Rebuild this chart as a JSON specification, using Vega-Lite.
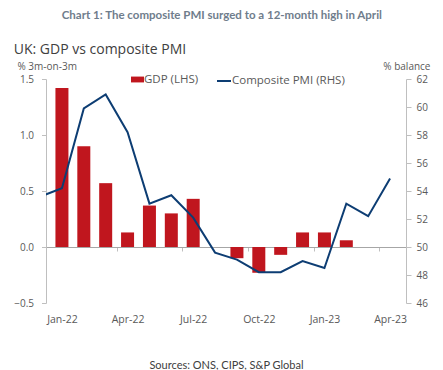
{
  "$schema": "https://vega.github.io/schema/vega-lite/v6.json",
  "background": "white",
  "padding": {"top": 9, "left": 13, "right": 5, "bottom": 5},
  "config": {"view": {"stroke": null}, "font": "Open Sans"},
  "title": {"text": "Chart 1: The composite PMI surged to a 12-month high in April", "font": "Lato", "fontSize": 11.5, "fontWeight": "bold", "color": "#6f7d8c", "anchor": "middle", "offset": 22},
  "data": {"values": [
    {"month": "Dec-21", "t": -1, "gdp": null, "pmi": 53.6},
    {"month": "Jan-22", "t": 0, "gdp": 1.42, "pmi": 54.2},
    {"month": "Feb-22", "t": 1, "gdp": 0.9, "pmi": 59.9},
    {"month": "Mar-22", "t": 2, "gdp": 0.57, "pmi": 60.9},
    {"month": "Apr-22", "t": 3, "gdp": 0.13, "pmi": 58.2},
    {"month": "May-22", "t": 4, "gdp": 0.37, "pmi": 53.1},
    {"month": "Jun-22", "t": 5, "gdp": 0.3, "pmi": 53.7},
    {"month": "Jul-22", "t": 6, "gdp": 0.43, "pmi": 52.1},
    {"month": "Aug-22", "t": 7, "gdp": 0.0, "pmi": 49.6},
    {"month": "Sep-22", "t": 8, "gdp": -0.1, "pmi": 49.1},
    {"month": "Oct-22", "t": 9, "gdp": -0.23, "pmi": 48.2},
    {"month": "Nov-22", "t": 10, "gdp": -0.07, "pmi": 48.2},
    {"month": "Dec-22", "t": 11, "gdp": 0.13, "pmi": 49.0},
    {"month": "Jan-23", "t": 12, "gdp": 0.13, "pmi": 48.5},
    {"month": "Feb-23", "t": 13, "gdp": 0.06, "pmi": 53.1},
    {"month": "Mar-23", "t": 14, "gdp": null, "pmi": 52.2},
    {"month": "Apr-23", "t": 15, "gdp": null, "pmi": 54.9}
  ]},
  "vconcat": [{
    "width": 360,
    "height": 224,
    "title": {"text": "UK: GDP vs composite PMI", "font": "Open Sans", "fontSize": 14, "fontWeight": "normal", "color": "#404040", "anchor": "start", "offset": 4},
    "resolve": {"scale": {"y": "independent"}, "axis": {"x": "independent"}},
    "layer": [
      {
        "transform": [{"filter": "isValid(datum.gdp)"}],
        "mark": {"type": "bar", "size": 13},
        "encoding": {
          "x": {"field": "t", "type": "quantitative", "scale": {"domain": [-0.5, 15.5], "nice": false, "zero": false},
            "axis": {"orient": "bottom", "offset": -56, "values": [2.5, 5.5, 8.5, 11.5, 14.5], "labels": false, "title": null, "grid": false, "domain": true, "domainColor": "#a6a6a6", "ticks": true, "tickColor": "#bfbfbf", "tickSize": 4}},
          "y": {"field": "gdp", "type": "quantitative", "scale": {"domain": [-0.5, 1.5], "nice": false},
            "axis": {"orient": "left", "values": [-0.5, 0, 0.5, 1, 1.5], "format": ".1f", "grid": false, "domainColor": "#bfbfbf", "tickColor": "#bfbfbf", "tickSize": 4.5, "labelPadding": 8, "labelFontSize": 10, "labelColor": "#595959", "labelFont": "Open Sans",
              "title": "% 3m-on-3m", "titleAngle": 0, "titleAlign": "left", "titleBaseline": "alphabetic", "titleX": -29, "titleY": -10, "titleFontSize": 10, "titleFontWeight": "normal", "titleColor": "#595959", "titleFont": "Open Sans"}},
          "fill": {"datum": "GDP (LHS)", "scale": {"range": ["#C0161E"]},
            "legend": {"orient": "none", "legendX": 85, "legendY": -6, "padding": 0, "title": null, "symbolType": "M-1,-0.45H1V0.45H-1Z", "symbolSize": 169, "symbolStrokeWidth": 0, "labelFontSize": 11.5, "labelColor": "#595959", "labelFont": "Open Sans", "labelOffset": 0}}
        }
      },
      {
        "mark": {"type": "line", "strokeWidth": 2, "clip": true},
        "encoding": {
          "x": {"field": "t", "type": "quantitative", "scale": {"domain": [-0.5, 15.5], "nice": false, "zero": false},
            "axis": {"orient": "bottom", "values": [0, 3, 6, 9, 12, 15], "labelExpr": "['Jan-22','Apr-22','Jul-22','Oct-22','Jan-23','Apr-23'][round(datum.value / 3)]", "domain": false, "ticks": false, "tickSize": 0, "grid": false, "labelPadding": 11, "labelFontSize": 10.5, "labelColor": "#595959", "labelFont": "Open Sans",
              "title": "Sources: ONS, CIPS, S&P Global", "titleFont": "Lato", "titleFontSize": 11, "titleFontWeight": "normal", "titleColor": "#404040", "titlePadding": 35}},
          "y": {"field": "pmi", "type": "quantitative", "scale": {"domain": [46, 62], "nice": false, "zero": false},
            "axis": {"orient": "right", "values": [46, 48, 50, 52, 54, 56, 58, 60, 62], "grid": false, "domainColor": "#bfbfbf", "tickColor": "#bfbfbf", "tickSize": 5, "labelPadding": 5, "labelFontSize": 10, "labelColor": "#595959", "labelFont": "Open Sans",
              "title": "% balance", "titleAngle": 0, "titleAlign": "right", "titleBaseline": "alphabetic", "titleX": 24, "titleY": -10, "titleFontSize": 10, "titleFontWeight": "normal", "titleColor": "#595959", "titleFont": "Open Sans"}},
          "stroke": {"datum": "Composite PMI (RHS)", "scale": {"range": ["#0D3D73"]},
            "legend": {"orient": "none", "legendX": 170, "legendY": -6, "padding": 0, "title": null, "symbolType": "stroke", "symbolSize": 196, "symbolStrokeWidth": 2, "labelFontSize": 11.5, "labelColor": "#595959", "labelFont": "Open Sans", "labelOffset": 0}}
        }
      }
    ]
  }]
}
